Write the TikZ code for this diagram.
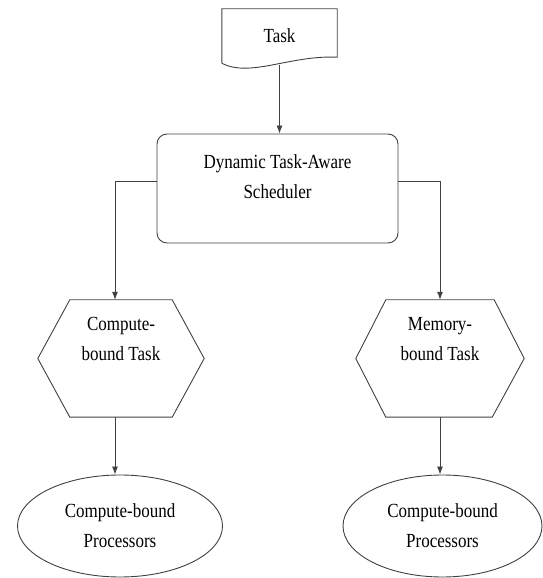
\documentclass[tikz,border=0pt]{standalone}
\usepackage{fontspec}
\setmainfont{Liberation Serif}[FakeStretch=0.85]
\usetikzlibrary{shapes.geometric}
\usetikzlibrary{arrows.meta}

\tikzset{
  txt/.style={align=center, font=\fontsize{20}{30}\selectfont},
  line/.style={draw=black!75, line width=0.9pt},
  arr/.style={line, -{Latex[length=8pt,width=6pt]}},
  hexa/.style={minimum width=#1, minimum height=117pt, inner sep=0pt}
}

\begin{document}
\begin{tikzpicture}[x=1pt,y=1pt]
\useasboundingbox (0,0) rectangle (543,578);

\node[txt, minimum width=115pt, minimum height=54pt, inner sep=0pt] (task) at (279.5,542) {Task};
\draw[line] (task.south west) -- (task.north west) -- (task.north east) -- ([yshift=6]task.south east) .. controls (290,523) and (250,500) .. (task.south west);

\node[line, rounded corners=10pt, minimum width=241pt, minimum height=109pt, label={[txt,yshift=11.5pt]center:Dynamic Task-Aware\\Scheduler}] (sched) at (277.5,389.5) {};

\node[hexa=166pt, label={[txt,yshift=20pt]center:Compute-\\bound Task}] (lhex) at (121,219.5) {};
\draw[line] (lhex.west) -- ([xshift=32]lhex.north west) -- ([xshift=-32]lhex.north east) -- (lhex.east) -- ([xshift=-32]lhex.south east) -- ([xshift=32]lhex.south west) -- cycle;

\node[hexa=168pt, label={[txt,yshift=19pt]center:Memory-\\bound Task}] (rhex) at (440,219.5) {};
\draw[line] (rhex.west) -- ([xshift=30]rhex.north west) -- ([xshift=-30]rhex.north east) -- (rhex.east) -- ([xshift=-32]rhex.south east) -- ([xshift=30]rhex.south west) -- cycle;

\node[line, ellipse, txt, minimum width=205pt, minimum height=102pt] (lell) at (120,52) {Compute-bound\\Processors};
\node[line, ellipse, txt, minimum width=199pt, minimum height=102pt] (rell) at (442.5,52) {Compute-bound\\Processors};

\draw[arr] ([yshift=-2]task.south) -- (task.south |- sched.north);
\draw[arr] ([yshift=7.5]sched.west) -| ([xshift=-6]lhex.north);
\draw[arr] ([yshift=7.5]sched.east) -| (rhex.north);
\draw[arr] ([xshift=-6]lhex.south) -- ([xshift=-6]lhex.south |- lell.north);
\draw[arr] (rhex.south) -- (rhex.south |- rell.north);

\end{tikzpicture}
\end{document}
